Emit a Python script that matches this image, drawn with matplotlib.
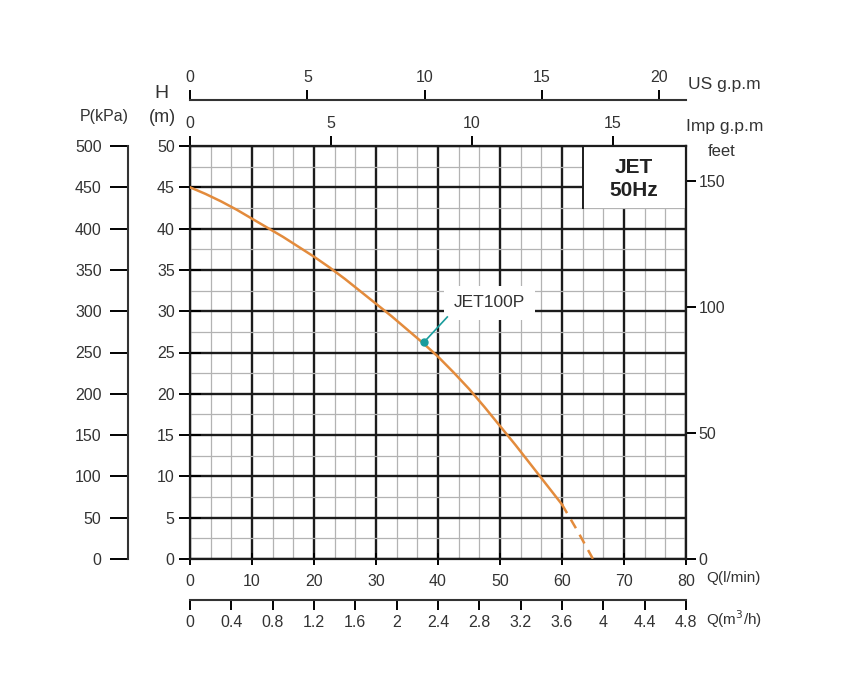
import numpy as np
import matplotlib
matplotlib.use("Agg")
import matplotlib.pyplot as plt
from matplotlib.ticker import MultipleLocator
from matplotlib.patches import Rectangle

plt.rcParams['font.family'] = ['Liberation Sans', 'DejaVu Sans']

# pump curve JET100P
q_solid = [0, 2.5, 5, 7.5, 10, 12.5, 15, 17.5, 20, 22.5, 25, 27.5, 30,
           32.5, 35, 37.5, 40, 42.5, 45, 47.5, 50, 52.5, 55, 57.5, 60]   # l/min
h_solid = [45, 44.2, 43.3, 42.3, 41.2, 40.1, 39.0, 37.8, 36.6, 35.3, 33.9, 32.4, 30.9,
           29.4, 27.8, 26.2, 24.5, 22.6, 20.6, 18.4, 16.1, 13.8, 11.4, 9.0, 6.6]  # m
q_dash = [60, 62.5, 65]
h_dash = [6.6, 3.4, 0]

model = "JET100P"
dot_q, dot_h = 37.8, 26.3

q_ticks = list(range(0, 81, 10))
h_ticks = list(range(0, 51, 5))
kpa_ticks = list(range(0, 501, 50))
feet_ticks = [0, 50, 100, 150]
us_ticks = [0, 5, 10, 15, 20]
imp_ticks = [0, 5, 10, 15]
m3h_ticks = [0, 0.4, 0.8, 1.2, 1.6, 2, 2.4, 2.8, 3.2, 3.6, 4, 4.4, 4.8]
m3h_labels = ["0", "0.4", "0.8", "1.2", "1.6", "2", "2.4", "2.8", "3.2", "3.6", "4", "4.4", "4.8"]

W, H = 844, 698
txt = '#333333'
orange = '#e38b3c'
teal = '#1a9c9c'

def fx(px):
    return px / W

def fy(py):
    return 1 - py / H

fig = plt.figure(figsize=(W / 100, H / 100), dpi=100)
ax = fig.add_axes([fx(190), fy(559), 496 / W, 413 / H])
ax.set_xlim(0, 80)
ax.set_ylim(0, 50)
ax.set_xticks(q_ticks)
ax.set_yticks(h_ticks)
ax.xaxis.set_minor_locator(MultipleLocator(10 / 3))
ax.yaxis.set_minor_locator(MultipleLocator(2.5))
ax.grid(which='major', color='#1c1c1c', lw=1.7)
ax.grid(which='minor', color='#b3b3b3', lw=0.9)
ax.set_axisbelow(True)
for s in ax.spines.values():
    s.set_linewidth(1.6)
    s.set_color('#1c1c1c')
ax.tick_params(which='minor', length=0)
ax.tick_params(axis='y', which='major', direction='inout', length=16, width=1.4,
               labelsize=11.5, labelcolor=txt, pad=3)
ax.tick_params(axis='x', which='major', direction='inout', length=9, width=1.4,
               labelsize=11.5, labelcolor=txt, pad=6)

# legend box top right
ax.add_patch(Rectangle((63.33, 42.5), 80 - 63.33, 7.5, facecolor='white',
                       edgecolor='none', zorder=2))
ax.plot([63.33, 63.33], [42.5, 50], color='#1c1c1c', lw=1.4, zorder=2.5)
ax.text(71.6, 47.4, "JET", ha='center', va='center', fontsize=15,
        fontweight='bold', color='#222222', zorder=3)
ax.text(71.6, 44.6, "50Hz", ha='center', va='center', fontsize=15,
        fontweight='bold', color='#222222', zorder=3)

# curve
ax.plot(q_solid, h_solid, color=orange, lw=1.8, zorder=4, solid_joinstyle='round')
ax.plot(q_dash, h_dash, color=orange, lw=1.8, zorder=4, dashes=(4, 3))

# label
ax.text(48.3, 31.0, model, ha='center', va='center', fontsize=12.5, color=txt,
        zorder=5, bbox=dict(facecolor='white', edgecolor='none', pad=7))
ax.plot([dot_q, 41.5], [dot_h, 29.3], color=teal, lw=1.2, zorder=6)
ax.plot(dot_q, dot_h, 'o', color=teal, ms=5, zorder=7)

# secondary scales
sec_kw = dict(direction='out', width=1.4, labelsize=11.5, labelcolor=txt)

us = ax.secondary_xaxis((146 - 100) / 413 + 1, functions=(lambda q: q / 3.785, lambda g: g * 3.785))
us.set_xticks(us_ticks)
us.tick_params(length=7, pad=4, **sec_kw)

imp = ax.secondary_xaxis('top', functions=(lambda q: q / 4.546, lambda g: g * 4.546))
imp.set_xticks(imp_ticks)
imp.tick_params(length=7, pad=4, **sec_kw)

m3h = ax.secondary_xaxis(-(600 - 559) / 413, functions=(lambda q: q * 0.06, lambda c: c / 0.06))
m3h.set_xticks(m3h_ticks, m3h_labels)
m3h.tick_params(length=7, pad=4, **sec_kw)

feet = ax.secondary_yaxis('right', functions=(lambda h: h * 3.2808, lambda f: f / 3.2808))
feet.set_yticks(feet_ticks)
feet.tick_params(length=7, pad=2, **sec_kw)

kpa = ax.secondary_yaxis(-(190 - 128) / 496, functions=(lambda h: h * 10, lambda p: p / 10))
kpa.set_yticks(kpa_ticks)
kpa.tick_params(length=13, pad=6, **sec_kw)

for sa in (us, imp, m3h, feet, kpa):
    for s in sa.spines.values():
        s.set_linewidth(1.5)
        s.set_color('#333333')

# axis titles
fig.text(fx(688), fy(84), "US g.p.m", ha='left', va='center', fontsize=12.5, color=txt)
fig.text(fx(686), fy(127), "Imp g.p.m", ha='left', va='center', fontsize=12.5, color=txt)
fig.text(fx(722), fy(152), "feet", ha='center', va='center', fontsize=12, color=txt)
fig.text(fx(706), fy(578), "Q(l/min)", ha='left', va='center', fontsize=11, color=txt)
fig.text(fx(706), fy(619), "Q(m$^3$/h)", ha='left', va='center', fontsize=11, color=txt)
fig.text(fx(161), fy(93), "H", ha='center', va='center', fontsize=14, color=txt)
fig.text(fx(162), fy(117), "(m)", ha='center', va='center', fontsize=13, color=txt)
fig.text(fx(104), fy(117), "P(kPa)", ha='center', va='center', fontsize=11.5, color=txt)

fig.savefig("out.png", dpi=100)
